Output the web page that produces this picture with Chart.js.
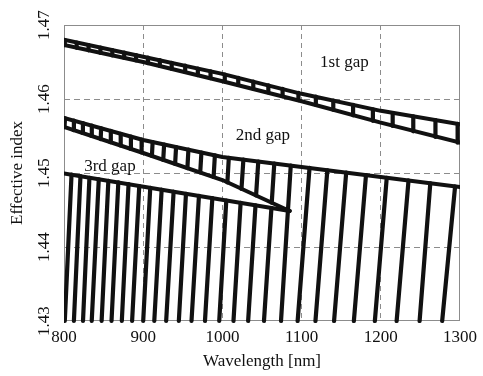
<!DOCTYPE html>
<html><head><meta charset="utf-8">
<script src="https://cdn.jsdelivr.net/npm/chart.js@4/dist/chart.umd.min.js"></script>
<style>html,body{margin:0;padding:0;background:#fff}#wrap{width:483px;height:376px}</style>
</head><body><div id="wrap"><canvas id="c" width="483" height="376"></canvas></div>
<script>
// ---- axes ----
const xTicks = [800, 900, 1000, 1100, 1200, 1300];
const yTicks = [1.43, 1.44, 1.45, 1.46, 1.47];

// ---- band 1 (upper ladder) ----
const band1Lambda = [800, 900, 1000, 1100, 1200, 1300];
const band1Upper = [1.4680, 1.4657, 1.4634, 1.4607, 1.4584, 1.4566];
const band1Lower = [1.4673, 1.4650, 1.4624, 1.4597, 1.4568, 1.4541];
const band1RungLambda = [801, 816, 831, 846, 861, 876, 891, 906, 921, 936, 953, 969, 985, 1003, 1020, 1039, 1058, 1076, 1096, 1118, 1140, 1165, 1190, 1215, 1241, 1269, 1297];
const band1RungTop = [1.46795, 1.46761, 1.46727, 1.46695, 1.46661, 1.46627, 1.46593, 1.46559, 1.46524, 1.46489, 1.46450, 1.46412, 1.46373, 1.46331, 1.46285, 1.46235, 1.46185, 1.46136, 1.46084, 1.46032, 1.45980, 1.45920, 1.45861, 1.45811, 1.45765, 1.45716, 1.45665];
const band1RungBottom = [1.46727, 1.46692, 1.46658, 1.46623, 1.46589, 1.46554, 1.46520, 1.46484, 1.46446, 1.46407, 1.46365, 1.46323, 1.46282, 1.46236, 1.46189, 1.46139, 1.46088, 1.46037, 1.45983, 1.45921, 1.45854, 1.45780, 1.45705, 1.45635, 1.45563, 1.45488, 1.45409];

// ---- band 2 (middle ladder) ----
const band2UpperLambda = [800, 900, 1000, 1100, 1200, 1300];
const band2Upper = [1.45743, 1.45446, 1.45216, 1.45081, 1.44946, 1.44811];
const band2LowerLambda = [800, 900, 1000, 1085];
const band2Lower = [1.45622, 1.45270, 1.44905, 1.44486];
const band2RungLowLambda = [800.6, 811.9, 823.3, 834.5, 846.3, 858.4, 870.9, 883.8, 897.3, 911.0, 925.3, 940.3, 955.8, 972.0, 988.9, 1006.3, 1024.1, 1042.5, 1062.3];
const band2RungLowN = [1.45619, 1.45580, 1.45541, 1.45500, 1.45459, 1.45416, 1.45373, 1.45327, 1.45280, 1.45230, 1.45178, 1.45123, 1.45066, 1.45008, 1.44946, 1.44874, 1.44786, 1.44696, 1.44599];
const band2RungHighLambda = [801.3, 812.5, 823.9, 835.1, 846.9, 859.1, 871.6, 884.5, 898.0, 911.9, 926.4, 941.5, 957.1, 973.5, 990.5, 1008.1, 1026.5, 1045.3, 1065.5];
const band2RungHighN = [1.45739, 1.45707, 1.45673, 1.45639, 1.45604, 1.45568, 1.45530, 1.45492, 1.45451, 1.45419, 1.45385, 1.45350, 1.45315, 1.45277, 1.45238, 1.45205, 1.45180, 1.45155, 1.45127];

// ---- 3rd gap lower edge ----
const gap3EdgeLambda = [800, 950, 1085];
const gap3Edge = [1.44993, 1.44727, 1.44486];

// ---- lower modes (from n = 1.43 upward) ----
const modeBaseLambda = [801, 812.5, 824, 835, 847.5, 860, 873, 886, 900, 914, 929, 945, 961, 978, 996, 1014, 1032.5, 1052.5, 1074, 1095, 1117.5, 1141, 1166, 1192.5, 1220, 1249, 1277.5];
const modeTopLambda = [809.5, 820.8, 832.1, 843.9, 856.0, 868.6, 881.5, 895.0, 908.9, 923.3, 938.4, 954.0, 970.4, 987.3, 1004.9, 1023.0, 1041.8, 1061.9, 1086.3, 1110.0, 1132.5, 1156.3, 1181.3, 1207.5, 1235.0, 1262.5, 1293.8];
const modeTopN = [1.44977, 1.44957, 1.44936, 1.44915, 1.44893, 1.44872, 1.44849, 1.44824, 1.44800, 1.44774, 1.44747, 1.44719, 1.44691, 1.44661, 1.44628, 1.44597, 1.44564, 1.44527, 1.45100, 1.45068, 1.45037, 1.45005, 1.44972, 1.44935, 1.44899, 1.44861, 1.44818];

// ---- gap labels ----
const gapLabels = ['1st gap', '2nd gap', '3rd gap'];
const gapLabelLambda = [1154, 1051, 858];
const gapLabelN = [1.4649, 1.4551, 1.4509];

const INK = '#111111';
const GRID = '#8c8c8c';
const SERIF = '"Liberation Serif", "Times New Roman", serif';

function polyline(xs, ys) { return xs.map((x, i) => ({x: x, y: ys[i]})); }
function segments(x1, y1, x2, y2) {
  const out = [];
  x1.forEach((x, i) => {
    out.push({x: x, y: y1[i]});
    out.push({x: x2[i], y: y2[i]});
    out.push({x: x2[i], y: null});
  });
  return out;
}
const baseN = modeBaseLambda.map(() => yTicks[0]);

function ds(data, width) {
  return {data: data, borderColor: INK, backgroundColor: INK, borderWidth: width,
    pointRadius: 0, tension: 0, spanGaps: false, fill: false,
    borderCapStyle: 'round', borderJoinStyle: 'round', clip: {left: 0, right: 0, top: 0, bottom: 3}};
}

const datasets = [
  ds(polyline(band1Lambda, band1Upper), 4),
  ds(polyline(band1Lambda, band1Lower), 4),
  ds(segments(band1RungLambda, band1RungBottom, band1RungLambda, band1RungTop), 4.2),
  ds(polyline(band2UpperLambda, band2Upper), 4),
  ds(polyline(band2LowerLambda, band2Lower), 4),
  ds(segments(band2RungLowLambda, band2RungLowN, band2RungHighLambda, band2RungHighN), 4.2),
  ds(polyline(gap3EdgeLambda, gap3Edge), 4),
  ds(segments(modeBaseLambda, baseN, modeTopLambda, modeTopN), 4.2)
];

const edgeTransparent = (ctx, lo, hi) => {
  const v = ctx.tick ? ctx.tick.value : null;
  if (v === null) return GRID;
  return (Math.abs(v - lo) < 1e-9 || Math.abs(v - hi) < 1e-9) ? 'rgba(0,0,0,0)' : GRID;
};

const decor = {
  id: 'decor',
  beforeDatasetsDraw(chart) {
    const {ctx, chartArea: a} = chart;
    ctx.save();
    ctx.strokeStyle = GRID;
    ctx.lineWidth = 1;
    ctx.setLineDash([]);
    const l = Math.round(a.left) + 0.5, t = Math.round(a.top) + 0.5;
    const r = Math.round(a.right) - 0.5, b = Math.round(a.bottom) - 0.5;
    ctx.strokeRect(l, t, r - l, b - t);
    ctx.restore();
  },
  afterDraw(chart) {
    const {ctx} = chart;
    const xs = chart.scales.x, ys = chart.scales.y;
    ctx.save();
    ctx.fillStyle = INK;
    ctx.font = '17px ' + SERIF;
    ctx.textAlign = 'center';
    ctx.textBaseline = 'middle';
    yTicks.forEach(v => {
      const py = ys.getPixelForValue(v);
      ctx.save();
      ctx.translate(45, py);
      ctx.rotate(-Math.PI / 2);
      ctx.fillText(v.toFixed(2), 0, 0);
      ctx.restore();
    });
    gapLabels.forEach((txt, i) => {
      ctx.fillText(txt, xs.getPixelForValue(gapLabelLambda[i]), ys.getPixelForValue(gapLabelN[i]));
    });
    ctx.restore();
  }
};

new Chart(document.getElementById('c'), {
  type: 'line',
  data: {datasets: datasets},
  plugins: [decor],
  options: {
    responsive: false,
    animation: false,
    events: [],
    layout: {padding: {top: 25, right: 19, left: 0, bottom: 0}},
    plugins: {legend: {display: false}, tooltip: {enabled: false}},
    scales: {
      x: {
        type: 'linear', min: xTicks[0], max: xTicks[xTicks.length - 1],
        afterBuildTicks: s => { s.ticks = xTicks.map(v => ({value: v})); },
        afterFit: s => { s.height = 55; },
        ticks: {font: {family: SERIF, size: 17}, color: INK, padding: 6, maxRotation: 0, autoSkip: false,
          callback: v => String(v)},
        grid: {drawTicks: false, color: c => edgeTransparent(c, xTicks[0], xTicks[xTicks.length - 1]), lineWidth: 1},
        border: {display: false, dash: [5, 4]},
        title: {display: true, text: 'Wavelength [nm]', font: {family: SERIF, size: 17}, color: INK, padding: {top: 0, bottom: 4}}
      },
      y: {
        type: 'linear', min: yTicks[0], max: yTicks[yTicks.length - 1],
        afterBuildTicks: s => { s.ticks = yTicks.map(v => ({value: v})); },
        afterFit: s => { s.width = 64; },
        ticks: {display: false},
        grid: {drawTicks: false, color: c => edgeTransparent(c, yTicks[0], yTicks[yTicks.length - 1]), lineWidth: 1},
        border: {display: false, dash: [6, 4]},
        title: {display: true, text: 'Effective index', font: {family: SERIF, size: 17}, color: INK, padding: {top: 7, bottom: 0}}
      }
    }
  }
});
</script>
</body></html>
